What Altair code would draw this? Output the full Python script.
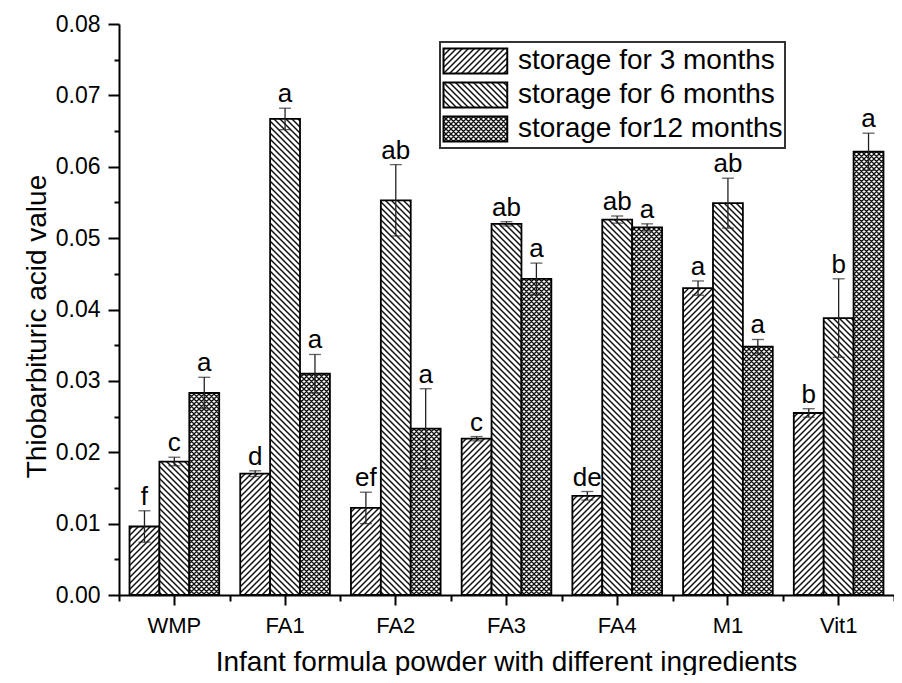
import altair as alt
import pandas as pd
import jinja2

# ---------------- data ----------------
categories = ["WMP", "FA1", "FA2", "FA3", "FA4", "M1", "Vit1"]
series = ["storage for 3 months", "storage for 6 months", "storage for12 months"]

mean_3m = [0.0096, 0.0170, 0.0122, 0.0219, 0.0139, 0.0430, 0.0255]
mean_6m = [0.0187, 0.0667, 0.0553, 0.0520, 0.0526, 0.0549, 0.0388]
mean_12m = [0.0283, 0.0310, 0.0233, 0.0443, 0.0515, 0.0348, 0.0621]

err_3m = [0.0022, 0.0004, 0.0022, 0.0003, 0.0006, 0.0010, 0.0006]
err_6m = [0.0006, 0.0015, 0.0050, 0.0003, 0.0005, 0.0035, 0.0055]
err_12m = [0.0022, 0.0027, 0.0056, 0.0022, 0.0005, 0.0010, 0.0026]

letters_3m = ["f", "d", "ef", "c", "de", "a", "b"]
letters_6m = ["c", "a", "ab", "ab", "ab", "ab", "b"]
letters_12m = ["a", "a", "a", "a", "a", "a", "a"]

y_ticks = [0.0, 0.005, 0.01, 0.015, 0.02, 0.025, 0.03, 0.035, 0.04,
           0.045, 0.05, 0.055, 0.06, 0.065, 0.07, 0.075, 0.08]
x_boundaries = list(range(len(categories) + 1))

Y_TITLE = "Thiobarbituric acid value"
X_TITLE = "Infant formula powder with different ingredients"

# ---------------- table ----------------
rows = []
for s, means, errs, lets in zip(series,
                                [mean_3m, mean_6m, mean_12m],
                                [err_3m, err_6m, err_12m],
                                [letters_3m, letters_6m, letters_12m]):
    for c, m, e, l in zip(categories, means, errs, lets):
        rows.append({"cat": c, "series": s, "value": m, "err": e, "letter": l})
df = pd.DataFrame(rows)

FONT = "Liberation Sans, Arial, sans-serif"
patterns = ["url(#hatch3)", "url(#hatch6)", "url(#hatch12)"]

x_axis = alt.Axis(
    title=X_TITLE,
    labelAngle=0, labelFontSize=22, labelPadding=10,
    tickSize=10, tickWidth=2, domainWidth=2,
    titleFontSize=28, titleX=387, titleY=75,
    titleBaseline="alphabetic", titleAlign="center",
)
y_axis = alt.Axis(
    title=Y_TITLE,
    values=y_ticks,
    labelExpr="round(datum.value*1000) % 10 === 0 ? format(datum.value, '.2f') : ''",
    tickSize={"condition": {"test": "round(datum.value*1000) % 10 === 0", "value": 11}, "value": 5},
    tickWidth=2, domainWidth=2, labelFontSize=23, labelPadding=8,
    titleFontSize=28, titleAngle=-90, titleX=-82, titleY=302,
    titleAlign="center", titleBaseline="middle", grid=False,
)

x_enc = alt.X("cat:N", sort=categories, title=X_TITLE,
              scale=alt.Scale(paddingInner=0.19, paddingOuter=0.095),
              axis=x_axis)
xoff = alt.XOffset("series:N", sort=series, scale=alt.Scale(paddingInner=0))
y_scale = alt.Scale(domain=[0, 0.08], nice=False, zero=True)

base = alt.Chart(df).transform_calculate(
    lo="datum.value - datum.err", hi="datum.value + datum.err"
)

bars = base.mark_bar(stroke="black", strokeWidth=1.8).encode(
    x=x_enc,
    xOffset=xoff,
    y=alt.Y("value:Q", scale=y_scale, title=Y_TITLE, axis=y_axis),
    fill=alt.Fill(
        "series:N", sort=series,
        scale=alt.Scale(domain=series, range=patterns),
        legend=alt.Legend(
            title=None, orient="none", legendX=321, legendY=18,
            symbolType="M-1,-1H4.1V1H-1Z", symbolSize=625,
            symbolStrokeColor="black", symbolStrokeWidth=2, symbolOpacity=1,
            labelFontSize=28, labelOffset=48, labelLimit=500, labelColor="black",
            labelFont=FONT, rowPadding=0, padding=2, clipHeight=34,
            strokeColor="#333", fillColor="white",
        ),
    ),
)

rules = base.mark_rule(color="#222", strokeWidth=1.3).encode(
    x=x_enc, xOffset=xoff,
    y=alt.Y("lo:Q", scale=y_scale, title=Y_TITLE, axis=y_axis), y2="hi:Q",
)
caps_hi = base.mark_tick(color="#222", thickness=1.3, size=12).encode(
    x=x_enc, xOffset=xoff,
    y=alt.Y("hi:Q", scale=y_scale, title=Y_TITLE, axis=y_axis),
)
caps_lo = base.mark_tick(color="#222", thickness=1.3, size=12).encode(
    x=x_enc, xOffset=xoff,
    y=alt.Y("lo:Q", scale=y_scale, title=Y_TITLE, axis=y_axis),
)
labels = base.mark_text(fontSize=26, font=FONT, color="black",
                        baseline="alphabetic", dy=-6).encode(
    x=x_enc, xOffset=xoff,
    y=alt.Y("hi:Q", scale=y_scale, title=Y_TITLE, axis=y_axis),
    text="letter:N",
)

main = alt.layer(bars, rules, caps_lo, caps_hi, labels)

minor_x = alt.Chart(pd.DataFrame({"b": x_boundaries})).mark_point(opacity=0).encode(
    x=alt.X("b:Q",
            scale=alt.Scale(domain=[0, len(categories)], nice=False, zero=False),
            axis=alt.Axis(orient="bottom", values=x_boundaries, labels=False,
                          domain=False, tickSize=6, tickWidth=2, grid=False,
                          title=None, tickColor="black")),
)

chart = alt.layer(main, minor_x).resolve_scale(x="independent").properties(
    width=775, height=571,
    autosize=alt.AutoSizeParams(type="none"),
    padding={"left": 111, "top": 16, "right": 0, "bottom": 80},
).configure_view(stroke=None).configure_axis(
    labelFont=FONT, titleFont=FONT, labelColor="black", titleColor="black",
    domainColor="black", tickColor="black", titleFontWeight="normal",
).configure_legend(strokeWidth=2)

TEMPLATE = jinja2.Template("""<!DOCTYPE html>
<html>
<head>
<meta charset="utf-8">
<style>
  #{{ output_div }}.vega-embed { width: 100%; display: flex; }
</style>
<script type="text/javascript" src="{{ base_url }}/vega@{{ vega_version }}"></script>
<script type="text/javascript" src="{{ base_url }}/vega-lite@{{ vegalite_version }}"></script>
<script type="text/javascript" src="{{ base_url }}/vega-embed@{{ vegaembed_version }}"></script>
</head>
<body>
<svg width="0" height="0" style="position:absolute;left:0;top:0" aria-hidden="true">
  <defs>
    <pattern id="hatch3" patternUnits="userSpaceOnUse" width="6" height="6">
      <rect width="6" height="6" fill="white"/>
      <path d="M-1,1 L1,-1 M0,6 L6,0 M5,7 L7,5" stroke="#111" stroke-width="1.5"/>
    </pattern>
    <pattern id="hatch6" patternUnits="userSpaceOnUse" width="6" height="6">
      <rect width="6" height="6" fill="white"/>
      <path d="M-1,5 L1,7 M0,0 L6,6 M5,-1 L7,1" stroke="#111" stroke-width="1.5"/>
    </pattern>
    <pattern id="hatch12" patternUnits="userSpaceOnUse" width="5" height="5">
      <rect width="5" height="5" fill="white"/>
      <path d="M-1,1 L1,-1 M0,5 L5,0 M4,6 L6,4 M-1,4 L1,6 M0,0 L5,5 M4,-1 L6,1" stroke="#111" stroke-width="1.3"/>
    </pattern>
  </defs>
</svg>
<div id="{{ output_div }}"></div>
<script>
  vegaEmbed("#{{ output_div }}", {{ spec }}, {{ embed_options }}).catch(function(e) {
    document.getElementById("{{ output_div }}").innerHTML = '<p style="color:red">' + e.message + '</p>';
  });
</script>
</body>
</html>""")

chart.save("out.html", embed_options={"renderer": "svg", "actions": False}, template=TEMPLATE)
